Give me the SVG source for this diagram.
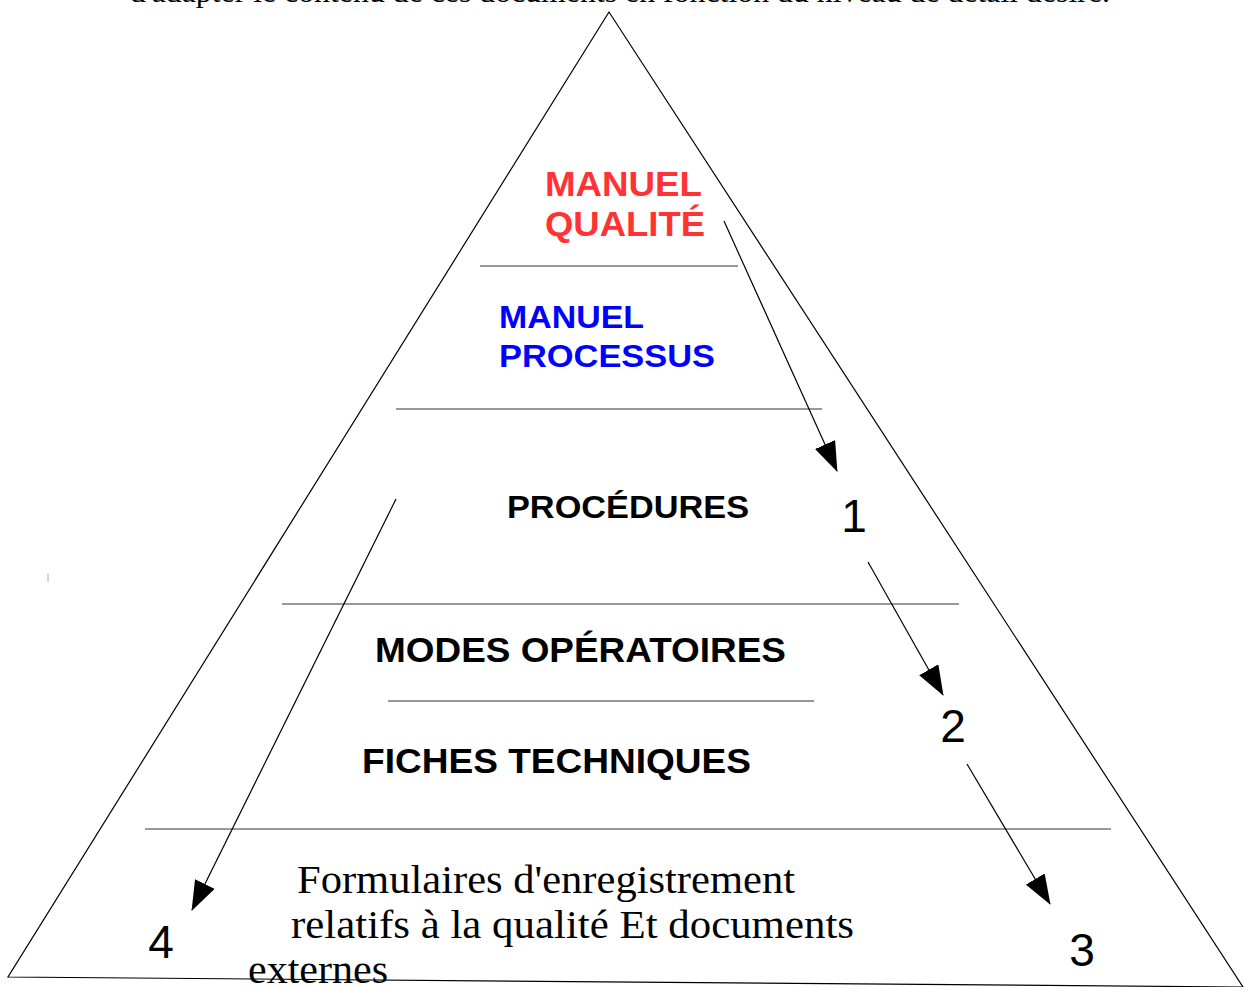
<svg xmlns="http://www.w3.org/2000/svg" width="1244" height="987" viewBox="0 0 1244 987">
<style>
.ln{stroke:#000;stroke-width:1.2;fill:none}
.sep{stroke:#333;stroke-width:1.2}
.b{font-family:"Liberation Sans",Arial,sans-serif;font-weight:bold}
.n{font-family:"Liberation Sans",Arial,sans-serif;font-size:46px;fill:#000}
.s{font-family:"Liberation Serif","Times New Roman",serif;fill:#000}
</style>
<defs>
<marker id="ah" markerWidth="30" markerHeight="22" refX="29" refY="11" orient="auto" markerUnits="userSpaceOnUse" viewBox="0 0 30 22">
<path d="M0,0 L30,11 L0,22 Z" fill="#000"/>
</marker>
</defs>
<rect width="1244" height="987" fill="#fff"/>
<text class="s" x="130" y="2" font-size="30" textLength="980" lengthAdjust="spacingAndGlyphs">d'adapter le contenu de ces documents en fonction du niveau de détail désiré.</text>
<g id="pyramid">
<path class="ln" d="M609,12 L8,977 L1243,987 Z"/>
<line class="sep" x1="480" y1="266" x2="738" y2="266"/>
<line class="sep" x1="396" y1="409" x2="822" y2="409"/>
<line class="sep" x1="282" y1="604" x2="959" y2="604"/>
<line class="sep" x1="388" y1="701" x2="814" y2="701"/>
<line class="sep" x1="145" y1="829" x2="1111" y2="829"/>
<line x1="48" y1="574" x2="48" y2="582" stroke="#aaa" stroke-width="1"/>
</g>
<g id="n-manuel-qualite">
<text class="b" x="545" y="196" font-size="35" fill="#ff3333" textLength="157" lengthAdjust="spacingAndGlyphs">MANUEL</text>
<text class="b" x="545" y="236" font-size="35" fill="#ff3333" textLength="160" lengthAdjust="spacingAndGlyphs">QUALITÉ</text>
</g>
<g id="n-manuel-processus">
<text class="b" x="499" y="328" font-size="32" fill="#0000ff" textLength="145" lengthAdjust="spacingAndGlyphs">MANUEL</text>
<text class="b" x="499" y="367" font-size="32" fill="#0000ff" textLength="216" lengthAdjust="spacingAndGlyphs">PROCESSUS</text>
</g>
<g id="n-procedures">
<text class="b" x="507" y="518" font-size="32" fill="#000" textLength="242" lengthAdjust="spacingAndGlyphs">PROCÉDURES</text>
</g>
<g id="n-modes">
<text class="b" x="375" y="662" font-size="35" fill="#000" textLength="411" lengthAdjust="spacingAndGlyphs">MODES OPÉRATOIRES</text>
</g>
<g id="n-fiches">
<text class="b" x="362" y="773" font-size="35" fill="#000" textLength="389" lengthAdjust="spacingAndGlyphs">FICHES TECHNIQUES</text>
</g>
<g id="n-formulaires">
<text class="s" x="297" y="893" font-size="40" textLength="498" lengthAdjust="spacingAndGlyphs">Formulaires d'enregistrement</text>
<text class="s" x="291" y="938" font-size="40" textLength="563" lengthAdjust="spacingAndGlyphs">relatifs à la qualité Et documents</text>
<text class="s" x="248" y="983" font-size="40" textLength="140" lengthAdjust="spacingAndGlyphs">externes</text>
</g>
<g id="labels">
<text class="n" x="854" y="532" text-anchor="middle">1</text>
<text class="n" x="953" y="742" text-anchor="middle">2</text>
<text class="n" x="1082" y="966" text-anchor="middle">3</text>
<text class="n" x="161" y="958" text-anchor="middle">4</text>
</g>
<g id="connectors">
<line class="ln" x1="724" y1="221" x2="837" y2="471" marker-end="url(#ah)"/>
<line class="ln" x1="868" y1="562" x2="943" y2="695" marker-end="url(#ah)"/>
<line class="ln" x1="967" y1="764" x2="1050" y2="904" marker-end="url(#ah)"/>
<line class="ln" x1="396" y1="499" x2="192" y2="910" marker-end="url(#ah)"/>
</g>
</svg>
